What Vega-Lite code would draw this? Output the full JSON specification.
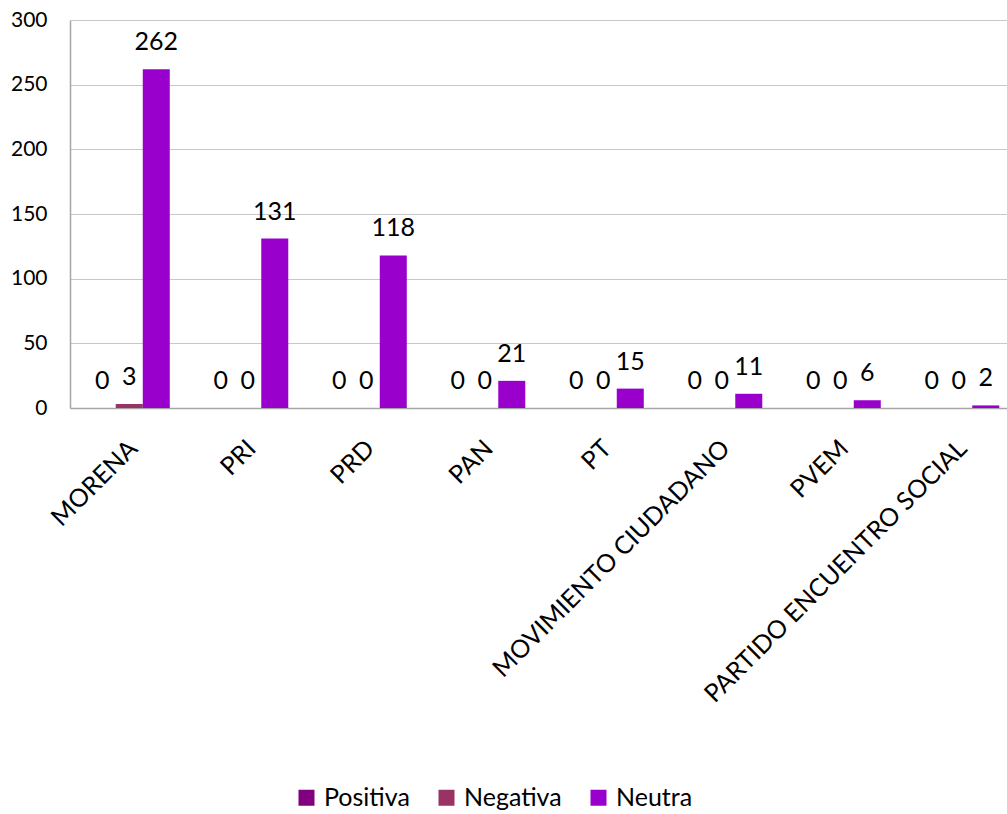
{
  "$schema": "https://vega.github.io/schema/vega-lite/v6.json",
  "width": 948,
  "height": 388,
  "autosize": {"type": "none"},
  "padding": {"left": 70, "top": 20, "right": -11, "bottom": 406},
  "background": "white",
  "config": {
    "view": {"stroke": null},
    "font": "Lato",
    "axis": {"labelFont": "Lato", "labelColor": "#000000", "titleFont": "Lato"},
    "legend": {"labelFont": "Lato"}
  },
  "data": {
    "values": [
      {"partido": "MORENA", "tipo": "Positiva", "valor": 0},
      {"partido": "MORENA", "tipo": "Negativa", "valor": 3},
      {"partido": "MORENA", "tipo": "Neutra", "valor": 262},
      {"partido": "PRI", "tipo": "Positiva", "valor": 0},
      {"partido": "PRI", "tipo": "Negativa", "valor": 0},
      {"partido": "PRI", "tipo": "Neutra", "valor": 131},
      {"partido": "PRD", "tipo": "Positiva", "valor": 0},
      {"partido": "PRD", "tipo": "Negativa", "valor": 0},
      {"partido": "PRD", "tipo": "Neutra", "valor": 118},
      {"partido": "PAN", "tipo": "Positiva", "valor": 0},
      {"partido": "PAN", "tipo": "Negativa", "valor": 0},
      {"partido": "PAN", "tipo": "Neutra", "valor": 21},
      {"partido": "PT", "tipo": "Positiva", "valor": 0},
      {"partido": "PT", "tipo": "Negativa", "valor": 0},
      {"partido": "PT", "tipo": "Neutra", "valor": 15},
      {"partido": "MOVIMIENTO CIUDADANO", "tipo": "Positiva", "valor": 0},
      {"partido": "MOVIMIENTO CIUDADANO", "tipo": "Negativa", "valor": 0},
      {"partido": "MOVIMIENTO CIUDADANO", "tipo": "Neutra", "valor": 11},
      {"partido": "PVEM", "tipo": "Positiva", "valor": 0},
      {"partido": "PVEM", "tipo": "Negativa", "valor": 0},
      {"partido": "PVEM", "tipo": "Neutra", "valor": 6},
      {"partido": "PARTIDO ENCUENTRO SOCIAL", "tipo": "Positiva", "valor": 0},
      {"partido": "PARTIDO ENCUENTRO SOCIAL", "tipo": "Negativa", "valor": 0},
      {"partido": "PARTIDO ENCUENTRO SOCIAL", "tipo": "Neutra", "valor": 2}
    ]
  },
  "encoding": {
    "x": {
      "field": "partido",
      "type": "nominal",
      "sort": null,
      "scale": {"paddingInner": 0.316, "paddingOuter": 0.158},
      "axis": {
        "title": null,
        "labelAngle": -45,
        "labelAlign": "right",
        "labelBaseline": "middle",
        "labelFontSize": 25,
        "labelPadding": 36,
        "labelOffset": 4,
        "ticks": false,
        "grid": false,
        "domainColor": "#a6a6a6",
        "domainWidth": 1.5,
        "labelLimit": 500
      }
    },
    "xOffset": {
      "field": "tipo",
      "type": "nominal",
      "sort": ["Positiva", "Negativa", "Neutra"],
      "scale": {"paddingInner": 0, "paddingOuter": 0}
    },
    "y": {
      "field": "valor",
      "type": "quantitative",
      "scale": {"domain": [0, 300], "nice": false},
      "axis": {
        "title": null,
        "values": [0, 50, 100, 150, 200, 250, 300],
        "ticks": false,
        "labelFontSize": 21,
        "labelPadding": 23,
        "domainColor": "#a6a6a6",
        "domainWidth": 1.5,
        "gridColor": "#c8c8c8",
        "gridWidth": 1.2
      }
    }
  },
  "layer": [
    {
      "mark": {"type": "bar"},
      "encoding": {
        "color": {
          "field": "tipo",
          "type": "nominal",
          "sort": ["Positiva", "Negativa", "Neutra"],
          "scale": {
            "domain": ["Positiva", "Negativa", "Neutra"],
            "range": ["#800080", "#993366", "#9900cc"]
          },
          "legend": {
            "title": null,
            "orient": "none",
            "direction": "horizontal",
            "legendX": 224,
            "legendY": 765,
            "padding": 0,
            "symbolType": "square",
            "symbolSize": 256,
            "symbolStrokeWidth": 0,
            "symbolOpacity": 1,
            "labelFontSize": 25,
            "labelColor": "#000000",
            "labelOffset": 5,
            "columnPadding": 24
          }
        }
      }
    },
    {
      "mark": {"type": "text", "baseline": "alphabetic", "dy": -19, "fontSize": 25, "color": "#000000", "font": "Lato"},
      "encoding": {
        "text": {"field": "valor", "type": "quantitative"}
      }
    }
  ]
}
